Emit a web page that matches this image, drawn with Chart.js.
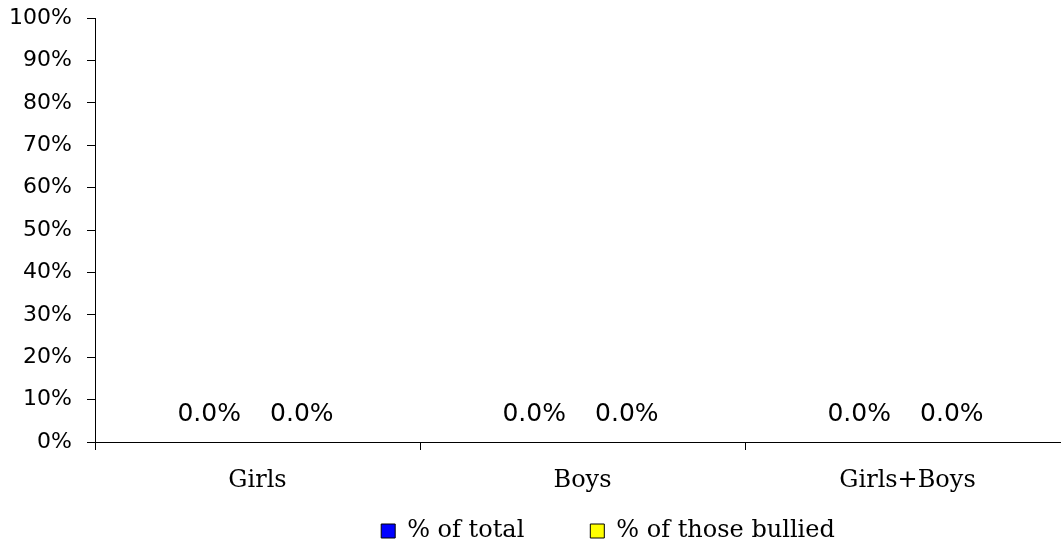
<!DOCTYPE html>
<html>
<head>
<meta charset="utf-8">
<script src="https://cdn.jsdelivr.net/npm/chart.js@4.4.0/dist/chart.umd.min.js"></script>
<style>
html, body { margin: 0; padding: 0; background: #fff; overflow: hidden; }
#wrap { width: 1070px; height: 548px; }
</style>
</head>
<body>
<div id="wrap"><canvas id="mycanvas"></canvas></div>
<script>
// chart values
const categories = ["Girls", "Boys", "Girls+Boys"];
const seriesNames = ["% of total", "% of those bullied"];
const pctTotal = [0, 0, 0];
const pctBullied = [0, 0, 0];
const yTickStep = 10;

const sansFont = '"DejaVu Sans", sans-serif';
const slabFont = '"DejaVu Serif", serif';

// draws "0.0%" above each bar
const valueLabels = {
  id: 'valueLabels',
  afterDatasetsDraw(chart) {
    const ctx = chart.ctx;
    ctx.save();
    ctx.font = '25px ' + sansFont;
    ctx.fillStyle = '#000';
    ctx.textAlign = 'center';
    ctx.textBaseline = 'middle';
    chart.data.datasets.forEach(function (ds, i) {
      chart.getDatasetMeta(i).data.forEach(function (bar, j) {
        ctx.fillText(ds.data[j].toFixed(1) + '%', bar.x - 2, bar.y - 28);
      });
    });
    ctx.restore();
  }
};

// move legend right and up like the original
// (only top moves so the clip box still covers the text)
const legendShift = {
  id: 'legendShift',
  afterLayout(chart) {
    const lg = chart.legend;
    lg.left += 73;
    lg.right += 73;
    lg.top -= 57;
  }
};

const data = {
  labels: categories,
  datasets: [{
    label: seriesNames[0],
    data: pctTotal,
    backgroundColor: '#0000ff',
    borderColor: '#000',
    borderWidth: 1
  }, {
    label: seriesNames[1],
    data: pctBullied,
    backgroundColor: '#ffff00',
    borderColor: '#000',
    borderWidth: 1
  }]
};

const config = {
  type: 'bar',
  data,
  plugins: [valueLabels, legendShift],
  options: {
    responsive: true,
    maintainAspectRatio: false,
    animation: false,
    layout: { padding: { top: 18, left: 0, right: 0, bottom: 0 } },
    datasets: { bar: { categoryPercentage: 0.57, barPercentage: 1 } },
    plugins: {
      tooltip: { enabled: false },
      legend: {
        position: 'bottom',
        maxHeight: 38,
        labels: {
          color: '#000',
          boxWidth: 14,
          boxHeight: 14,
          padding: 66,
          font: { family: slabFont, size: 24 }
        }
      }
    },
    scales: {
      x: {
        offset: true,
        grid: { offset: true, drawOnChartArea: false, tickLength: 8, color: '#000' },
        border: { color: '#000', width: 1 },
        ticks: { color: '#000', padding: 16, font: { family: slabFont, size: 24 } },
        afterFit(s) { s.height = 68; }
      },
      y: {
        min: 0,
        max: 100,
        grid: { drawOnChartArea: false, tickLength: 8, color: '#000' },
        border: { color: '#000', width: 1 },
        ticks: {
          stepSize: yTickStep,
          padding: 15,
          color: '#000',
          font: { family: sansFont, size: 22 },
          callback: function (v) { return v + '%'; }
        },
        afterFit(s) { s.width = 95; s.paddingTop = 0; }
      }
    }
  }
};

const myChart = new Chart(document.getElementById('mycanvas'), config);
</script>
</body>
</html>
